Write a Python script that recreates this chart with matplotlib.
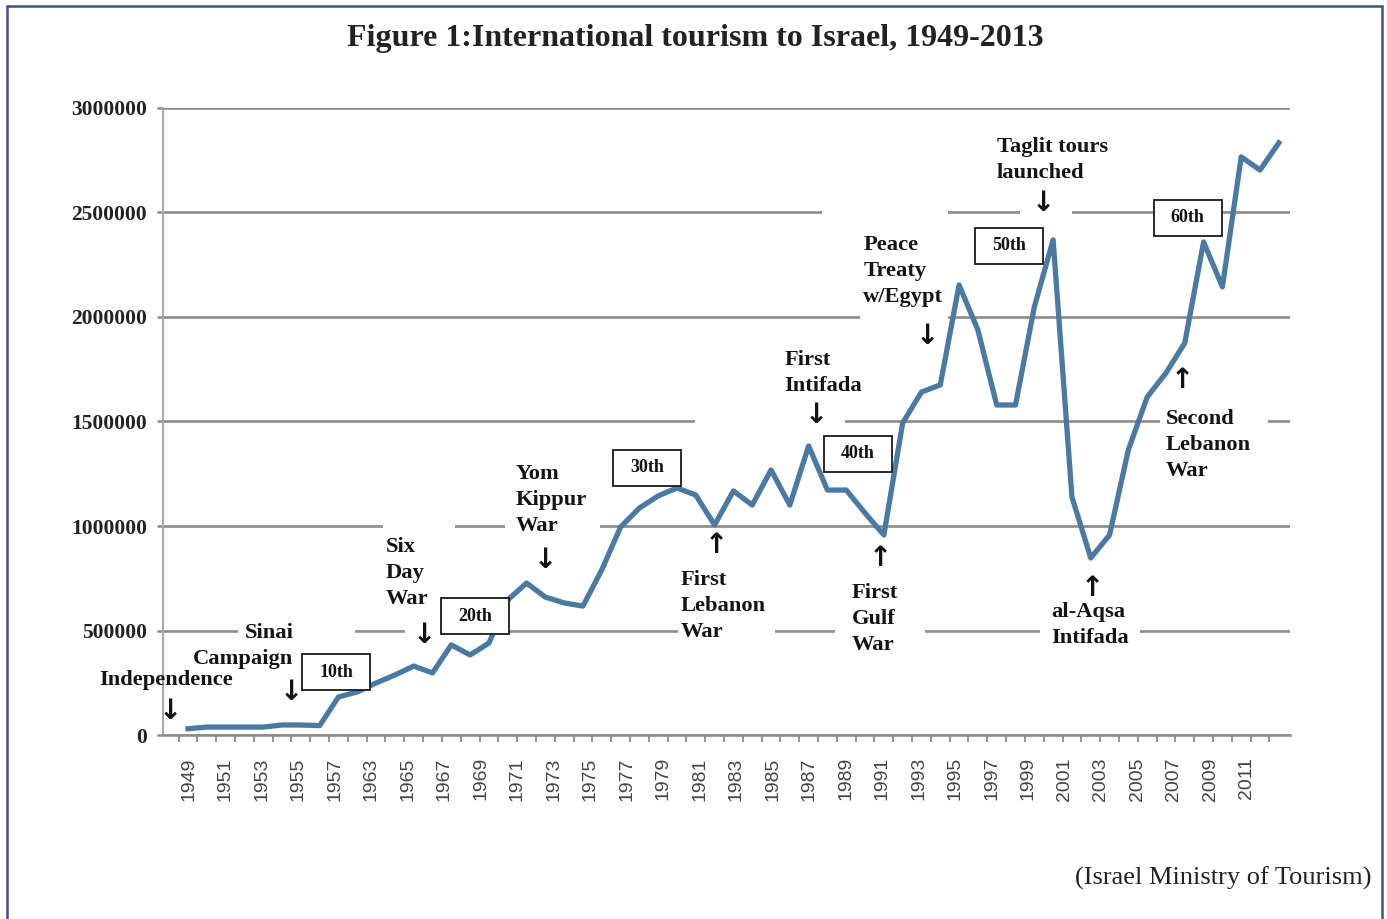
#!/usr/bin/env python3
"""Line chart: international tourism to Israel, 1949-2013."""

import matplotlib

matplotlib.use("Agg")
import matplotlib.pyplot as plt
from matplotlib.patches import Rectangle


# yearly tourist arrivals
years = [1949, 1950, 1951, 1952, 1953, 1954, 1955, 1956, 1957,
         1963, 1964, 1965, 1966, 1967, 1968, 1969, 1970, 1971, 1972,
         1973, 1974, 1975, 1976, 1977, 1978, 1979, 1980, 1981, 1982,
         1983, 1984, 1985, 1986, 1987, 1988, 1989, 1990, 1991, 1992,
         1993, 1994, 1995, 1996, 1997, 1998, 1999, 2000, 2001, 2002,
         2003, 2004, 2005, 2006, 2007, 2008, 2009, 2010, 2011, 2012]
visitors = [30000, 38000, 38000, 38000, 38000, 48000, 48000, 45000, 182000,
            206000, 249000, 287000, 330000, 297000, 431000, 383000, 440000,
            646000, 727000, 660000, 632000, 617000, 790000, 995000, 1086000,
            1144000, 1182000, 1148000, 1005000, 1168000, 1100000, 1268000,
            1100000, 1383000, 1172000, 1172000, 1062000, 957000, 1493000,
            1641000, 1675000, 2153000, 1938000, 1579000, 1579000, 2048000,
            2369000, 1139000, 847000, 957000, 1364000, 1617000, 1732000,
            1876000, 2359000, 2144000, 2766000, 2703000, 2833000]

# category labels printed under the axis (every other slot)
tick_labels = ["1949", "1951", "1953", "1955", "1957", "1963", "1965",
               "1967", "1969", "1971", "1973", "1975", "1977", "1979",
               "1981", "1983", "1985", "1987", "1989", "1991", "1993",
               "1995", "1997", "1999", "2001", "2003", "2005", "2007",
               "2009", "2011"]
y_ticks = [0, 500000, 1000000, 1500000, 2000000, 2500000, 3000000]

# event annotations: text, x (year index), y (visitors), alignment
events = [
    ("Independence", -4.7, 263000, "left"),
    ("Sinai\nCampaign", 5.6, 428000, "right"),
    ("Six\nDay\nWar", 10.5, 775000, "left"),
    ("Yom\nKippur\nWar", 17.4, 1124000, "left"),
    ("First\nLebanon\nWar", 26.2, 617000, "left"),
    ("First\nIntifada", 31.7, 1730000, "left"),
    ("First\nGulf\nWar", 35.3, 555000, "left"),
    ("Peace\nTreaty\nw/Egypt", 35.9, 2220000, "left"),
    ("Taglit tours\nlaunched", 43.0, 2749000, "left"),
    ("al-Aqsa\nIntifada", 45.9, 524000, "left"),
    ("Second\nLebanon\nWar", 52.0, 1388000, "left"),
]
arrows = [
    ("\u2193", -0.96, 115000), ("\u2193", 5.5, 206000),
    ("\u2193", 12.55, 478000), ("\u2193", 19.0, 837000),
    ("\u2191", 28.1, 909000), ("\u2193", 33.4, 1531000),
    ("\u2191", 36.8, 847000), ("\u2193", 39.3, 1909000),
    ("\u2193", 45.5, 2546000), ("\u2191", 48.1, 703000),
    ("\u2191", 52.85, 1699000),
]
anniversaries = [
    ("10th", 7.87, 301000), ("20th", 15.26, 569000),
    ("30th", 24.4, 1278000), ("40th", 35.62, 1345000),
    ("50th", 43.65, 2340000), ("60th", 53.16, 2474000),
]

# stretches of gridline hidden behind the label boxes: value, x from, x to
gridline_breaks = [
    (500000, 2.66, 8.88), (500000, 11.54, 13.4), (500000, 26.05, 31.21),
    (500000, 34.4, 39.18), (500000, 45.29, 50.61),
    (1000000, 10.37, 14.19), (1000000, 16.85, 21.9),
    (1500000, 26.95, 34.93), (1500000, 51.67, 57.42),
    (2000000, 35.73, 40.4),
    (2500000, 33.71, 40.4), (2500000, 44.23, 47.0),
]

SERIF = ["Liberation Serif", "DejaVu Serif"]
LINE_COLOR = "#4a7aa3"
GRID_COLOR = "#8c8c8c"


def plot(path="out.png"):
    fig = plt.figure(figsize=(13.87, 9.19), dpi=100)
    ax = fig.add_axes([0.1175, 0.2002, 0.8125, 0.6823])

    idx = list(range(len(years)))
    ax.plot(idx, visitors, color=LINE_COLOR, linewidth=3.8,
            solid_joinstyle="round", zorder=2)

    ax.set_xlim(-1.33, 58.59)
    ax.set_ylim(0, 3000000)
    ax.set_yticks(y_ticks)
    ax.set_yticklabels([str(v) for v in y_ticks], fontfamily=SERIF,
                       fontweight="bold", fontsize=15.5, color="#222222")
    ax.set_xticks([i - 0.5 for i in idx])
    ax.tick_params(axis="x", labelbottom=False, length=5, width=1.3,
                   color=GRID_COLOR)
    ax.tick_params(axis="y", length=4.5, width=1.8, color=GRID_COLOR, pad=7)
    ax.grid(axis="y", color=GRID_COLOR, linewidth=1.9)
    ax.set_axisbelow(True)
    for side in ("top", "right"):
        ax.spines[side].set_visible(False)
    ax.spines["left"].set_color("#a8a8a8")
    ax.spines["left"].set_linewidth(1.5)
    ax.spines["bottom"].set_color(GRID_COLOR)
    ax.spines["bottom"].set_linewidth(1.9)

    for value, x0, x1 in gridline_breaks:
        ax.plot([x0, x1], [value, value], color="white", linewidth=4,
                solid_capstyle="butt", zorder=1)

    # year labels sit on their own category scale
    lab = ax.twiny()
    lab.set_xlim(-1.425, 60.36)
    lab.set_xticks(range(0, 2 * len(tick_labels), 2))
    lab.set_xticklabels(tick_labels, rotation=90, fontsize=14,
                        fontfamily=["Liberation Sans", "DejaVu Sans"],
                        color="#444444")
    lab.xaxis.set_ticks_position("bottom")
    lab.tick_params(axis="x", length=0, pad=16)
    for spine in lab.spines.values():
        spine.set_visible(False)

    for text, x, y, ha in events:
        ax.text(x, y, text, ha=ha, va="center", multialignment=ha,
                fontfamily=SERIF, fontweight="bold", fontsize=16.2,
                color="#141414", linespacing=1.4, zorder=3, clip_on=False)
    for glyph, x, y in arrows:
        ax.text(x, y, glyph, ha="center", va="center",
                fontfamily=["DejaVu Sans"], fontweight="bold", fontsize=20,
                color="#111111", zorder=3, clip_on=False)
    for text, x, y in anniversaries:
        ax.add_patch(Rectangle((x - 1.8, y - 86000), 3.6, 172000,
                               facecolor="white", edgecolor="#1a1a1a",
                               linewidth=1.3, zorder=4))
        ax.text(x, y, text, ha="center", va="center", fontfamily=SERIF,
                fontweight="bold", fontsize=13, color="#111111", zorder=5)

    fig.text(0.501, 0.958, "Figure 1:International tourism to Israel, 1949-2013",
             ha="center", va="center", fontfamily=SERIF, fontweight="bold",
             fontsize=23, color="#222222")
    fig.text(0.989, 0.0446, "(Israel Ministry of Tourism)", ha="right",
             va="center", fontfamily=SERIF, fontsize=19, color="#222222")

    fig.patches.append(Rectangle((0.0051, -0.02), 0.9913, 1.0135,
                                 transform=fig.transFigure, fill=False,
                                 edgecolor="#3e5184", linewidth=1.8))

    fig.savefig(path, dpi=100)
    plt.close(fig)


def main():
    plot()


if __name__ == "__main__":
    main()
